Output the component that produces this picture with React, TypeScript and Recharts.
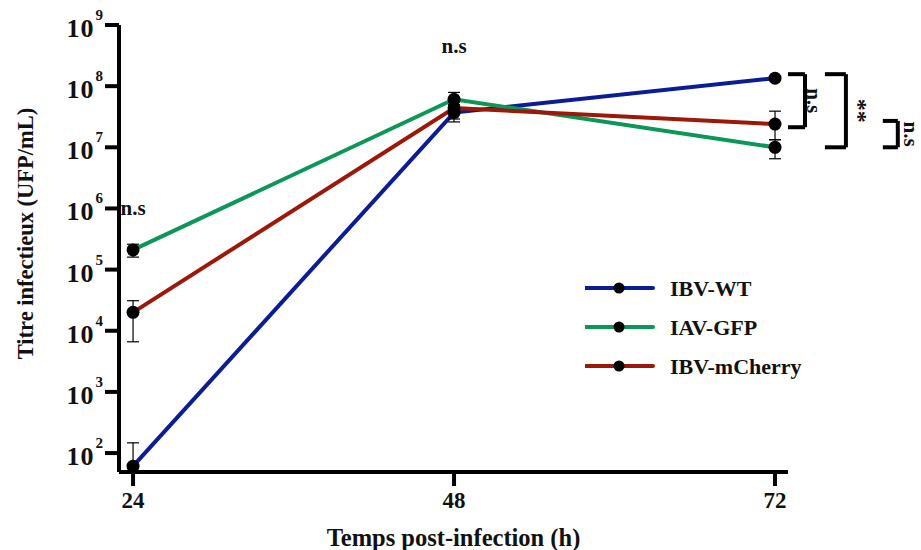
import { LineChart, Line, XAxis, YAxis, ErrorBar, Legend, ReferenceLine, ReferenceDot } from 'recharts'

const hours = [24, 48, 72]
const ibvWt = [61, 3.7e7, 1.35e8]
const iavGfp = [2.1e5, 6.1e7, 1.0e7]
const ibvCherry = [2.0e4, 4.4e7, 2.4e7]
// asymmetric errors as [minus, plus]
const ibvWtErr = [[11, 86], [1.1e7, 0.7e7], [1e6, 1e6]]
const iavGfpErr = [[0.5e5, 0.5e5], [1.1e7, 1.8e7], [3.5e6, 3.3e6]]
const ibvCherryErr = [[1.34e4, 1.1e4], [1.5e7, 1.0e7], [1.07e7, 1.5e7]]
const yTicks = [1e2, 1e3, 1e4, 1e5, 1e6, 1e7, 1e8, 1e9]
const xTicks = [24, 48, 72]

const series = [
  { key: 'wt', name: 'IBV-WT', color: '#0b1c94' },
  { key: 'gfp', name: 'IAV-GFP', color: '#0c9659' },
  { key: 'cherry', name: 'IBV-mCherry', color: '#9c1808' },
]

// brackets: [x0, x1, yTop, yBottom, label, label offset]
const brackets: [number, number, number, number, string, number][] = [
  [72.97, 74.24, 1.57e8, 2.13e7, 'n.s', 0.7],
  [75.73, 77.3, 1.57e8, 1.0e7, '**', 0.95],
  [80.06, 81.18, 2.7e7, 1.0e7, 'n.s', 1.0],
]

const data = hours.map((h, i) => ({
  hour: h,
  wt: ibvWt[i],
  gfp: iavGfp[i],
  cherry: ibvCherry[i],
  wtErr: ibvWtErr[i],
  gfpErr: iavGfpErr[i],
  cherryErr: ibvCherryErr[i],
}))

const FONT = "'Liberation Serif', 'Times New Roman', serif"
const INK = '#111'

function PowerTick({ x, y, payload }: any) {
  const exp = Math.round(Math.log10(payload.value))
  return (
    <text x={x} y={y} textAnchor="end" fontFamily={FONT} fontWeight="bold" fill={INK}>
      <tspan fontSize={26} dy={12} letterSpacing={1}>10</tspan>
      <tspan fontSize={15} dy={-17} dx={1}>{exp}</tspan>
    </text>
  )
}

function LegendBox() {
  return (
    <svg width={240} height={110}>
      {series.map((s, i) => (
        <g key={s.key} transform={`translate(0, ${16 + i * 39})`}>
          <line x1={0} x2={68} y1={0} y2={0} stroke={s.color} strokeWidth={4} strokeLinecap="round" />
          <circle cx={34} cy={0} r={5.5} fill="#000" />
          <text x={85} y={0} dominantBaseline="central" fontFamily={FONT} fontWeight="bold" fontSize={22} fill={INK}>
            {s.name}
          </text>
        </g>
      ))}
    </svg>
  )
}

function textLabel(text: string, rotate: number, size: number) {
  return ({ viewBox }: any) => {
    const cx = viewBox.x + viewBox.width / 2
    const cy = viewBox.y + viewBox.height / 2
    return (
      <text
        x={cx}
        y={cy}
        textAnchor="middle"
        dominantBaseline="central"
        transform={rotate ? `rotate(${rotate} ${cx} ${cy})` : undefined}
        fontFamily={FONT}
        fontWeight="bold"
        fontSize={size}
        fill={INK}
      >
        {text}
      </text>
    )
  }
}

export default function App() {
  return (
    <div style={{ position: 'absolute', left: 0, top: 0, width: 921, height: 550, background: '#fff' }}>
      <LineChart width={921} height={550} data={data} margin={{ top: 25, right: 133, bottom: 0, left: 0 }}>
        <XAxis
          dataKey="hour"
          type="number"
          domain={[22.95, 72.97]}
          ticks={xTicks}
          height={78}
          stroke="#000"
          strokeWidth={4}
          tickSize={14}
          tickMargin={6}
          tick={{ fill: INK, fontSize: 23, fontWeight: 'bold', fontFamily: FONT }}
          label={({ viewBox }: any) => (
            <text
              x={viewBox.x + viewBox.width / 2}
              y={viewBox.y + 65}
              textAnchor="middle"
              dominantBaseline="central"
              fontFamily={FONT}
              fontWeight="bold"
              fontSize={24.5}
              fill={INK}
            >
              Temps post-infection (h)
            </text>
          )}
        />
        <YAxis
          type="number"
          scale="log"
          domain={[49, 1e9]}
          ticks={yTicks}
          allowDataOverflow
          width={119}
          stroke="#000"
          strokeWidth={4}
          tickSize={14}
          tickMargin={2}
          tick={<PowerTick />}
          label={({ viewBox }: any) => {
            const cx = viewBox.x + 25
            const cy = viewBox.y + viewBox.height / 2 - 15
            return (
              <text
                x={cx}
                y={cy}
                textAnchor="middle"
                dominantBaseline="central"
                transform={`rotate(-90 ${cx} ${cy})`}
                fontFamily={FONT}
                fontWeight="bold"
                fontSize={22.5}
                fill={INK}
              >
                Titre infectieux (UFP/mL)
              </text>
            )
          }}
        />
        {series.map((s) => (
          <Line
            key={s.key}
            dataKey={s.key}
            name={s.name}
            stroke={s.color}
            strokeWidth={4}
            dot={{ r: 6.5, fill: '#000', stroke: '#000', strokeWidth: 0 }}
            activeDot={false}
            isAnimationActive={false}
          >
            <ErrorBar dataKey={`${s.key}Err`} width={6} stroke="#000" strokeWidth={1.2} direction="y" />
          </Line>
        ))}
        {brackets.map(([x0, x1, yt, yb], i) => (
          <g key={`br${i}`}>
            <ReferenceLine segment={[{ x: x0, y: yt }, { x: x1, y: yt }]} stroke="#000" strokeWidth={4} ifOverflow="visible" />
            <ReferenceLine segment={[{ x: x1, y: yt }, { x: x1, y: yb }]} stroke="#000" strokeWidth={4} ifOverflow="visible" />
            <ReferenceLine segment={[{ x: x0, y: yb }, { x: x1, y: yb }]} stroke="#000" strokeWidth={4} ifOverflow="visible" />
          </g>
        ))}
        {brackets.map(([, x1, yt, yb, lab, off], i) => (
          <ReferenceDot
            key={`bl${i}`}
            x={x1 + off}
            y={Math.sqrt(yt * yb)}
            r={0}
            ifOverflow="visible"
            label={textLabel(lab, 90, lab === '**' ? 24 : 21)}
          />
        ))}
        <ReferenceDot x={48} y={4.5e8} r={0} ifOverflow="visible" label={textLabel('n.s', 0, 21)} />
        <ReferenceDot x={24} y={1.0e6} r={0} ifOverflow="visible" label={textLabel('n.s', 0, 21)} />
        <Legend
          content={<LegendBox />}
          layout="horizontal"
          verticalAlign="middle"
          align="center"
          wrapperStyle={{ left: 585, top: 272, width: 240, height: 110 }}
        />
      </LineChart>
    </div>
  )
}
